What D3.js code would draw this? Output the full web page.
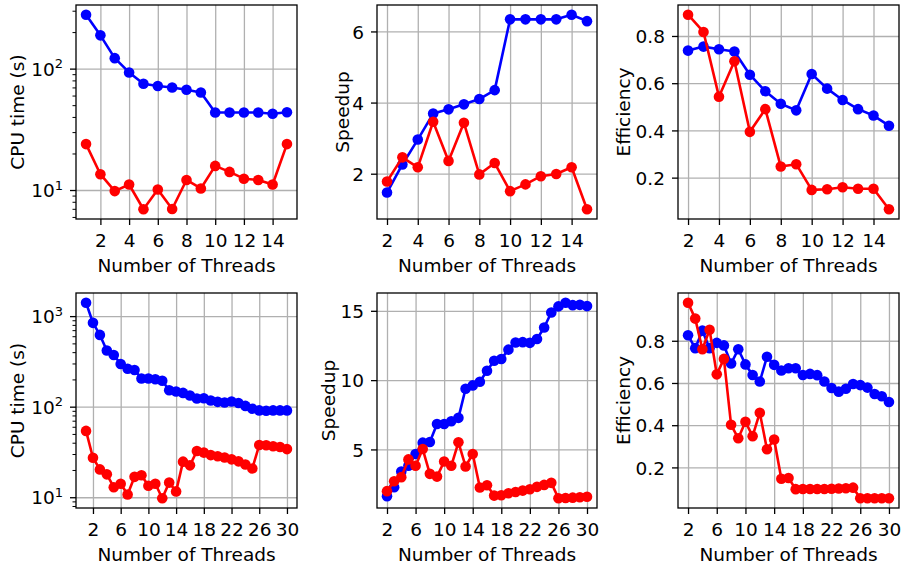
<!DOCTYPE html>
<html>
<head>
<meta charset="utf-8">
<script src="https://cdn.jsdelivr.net/npm/d3@7"></script>
<style>
  body { margin: 0; background: #fff; }
  svg text { font-family: "DejaVu Sans", sans-serif; fill: #000; }
</style>
</head>
<body>
<div id="chart"></div>
<script>
// Thread counts (x values)
var threadsA = [1, 2, 3, 4, 5, 6, 7, 8, 9, 10, 11, 12, 13, 14, 15];
var threadsA2 = [2, 3, 4, 5, 6, 7, 8, 9, 10, 11, 12, 13, 14, 15];
var threadsB = [1, 2, 3, 4, 5, 6, 7, 8, 9, 10, 11, 12, 13, 14, 15, 16, 17, 18, 19, 20,
  21, 22, 23, 24, 25, 26, 27, 28, 29, 30];
var threadsB2 = [2, 3, 4, 5, 6, 7, 8, 9, 10, 11, 12, 13, 14, 15, 16, 17, 18, 19, 20,
  21, 22, 23, 24, 25, 26, 27, 28, 29, 30];

// Top row: CPU time (s)
var cpuA_blue = [278, 188, 122, 93, 75, 72, 70, 67, 63.5, 43.5, 43.5, 43.5, 43.5, 42.5, 43.7];
var cpuA_red = [23.9, 13.5, 9.8, 11.1, 6.94, 10.1, 6.98, 12.1, 10.3, 15.8, 14.1, 12.4, 12.1, 11.1, 23.9];
// Top row: speedup
var speedA_blue = [1.47, 2.26, 2.96, 3.69, 3.81, 3.95, 4.10, 4.35, 6.34, 6.34, 6.34, 6.34, 6.47, 6.29];
var speedA_red = [1.78, 2.46, 2.18, 3.46, 2.36, 3.43, 1.98, 2.30, 1.51, 1.70, 1.93, 1.99, 2.18, 1.00];
// Top row: efficiency
var effA_blue = [0.738, 0.755, 0.744, 0.734, 0.636, 0.566, 0.513, 0.485, 0.639, 0.577, 0.529, 0.490, 0.463, 0.420];
var effA_red = [0.890, 0.817, 0.543, 0.693, 0.394, 0.490, 0.247, 0.257, 0.148, 0.151, 0.159, 0.153, 0.153, 0.066];

// Bottom row: CPU time (s)
var cpuB_blue = [1404, 843, 620, 417, 372, 296, 262, 254, 205, 205, 201, 193, 152, 147, 142,
  133, 123, 124, 117, 113, 111, 114, 110, 102, 95, 91, 90, 91, 91, 91];
var cpuB_red = [54, 27.3, 20.3, 17.9, 12.9, 14.1, 10.7, 16.8, 17.5, 13.4, 14.1, 9.75, 14.5, 11.6, 24.7,
  22.5, 32.4, 31.1, 29.2, 28.3, 27.5, 26.2, 24.9, 23.0, 20.8, 37.7, 37.5, 36.5, 35.8, 34.0];
// Bottom row: speedup
var speedB_blue = [1.62, 2.28, 3.41, 3.82, 4.67, 5.49, 5.54, 6.84, 6.84, 7.03, 7.28, 9.38, 9.62, 9.88,
  10.68, 11.40, 11.52, 12.20, 12.71, 12.74, 12.69, 12.97, 13.80, 14.88, 15.32, 15.58, 15.41, 15.43, 15.34];
var speedB_red = [1.99, 2.71, 3.00, 4.28, 3.82, 5.03, 3.24, 3.04, 4.13, 3.82, 5.51, 3.77, 4.67, 2.25,
  2.42, 1.67, 1.70, 1.84, 1.93, 2.03, 2.13, 2.30, 2.44, 2.59, 1.48, 1.50, 1.52, 1.55, 1.59];
// Bottom row: efficiency
var effB_blue = [0.826, 0.765, 0.848, 0.765, 0.790, 0.778, 0.692, 0.760, 0.688, 0.638, 0.607, 0.724, 0.686, 0.659,
  0.670, 0.670, 0.638, 0.643, 0.637, 0.607, 0.576, 0.559, 0.573, 0.595, 0.590, 0.578, 0.548, 0.537, 0.510];
var effB_red = [0.980, 0.905, 0.760, 0.852, 0.641, 0.714, 0.402, 0.338, 0.416, 0.348, 0.459, 0.286, 0.332, 0.146,
  0.150, 0.097, 0.098, 0.098, 0.098, 0.098, 0.099, 0.100, 0.101, 0.104, 0.054, 0.054, 0.054, 0.054, 0.054];

// Tick values
var xTicksA = [2, 4, 6, 8, 10, 12, 14];
var xTicksB = [2, 6, 10, 14, 18, 22, 26, 30];
var yTicksCpuA = [10, 100];
var yTicksCpuB = [10, 100, 1000];
var yTicksSpeedA = [2, 4, 6];
var yTicksSpeedB = [5, 10, 15];
var yTicksEff = [0.2, 0.4, 0.6, 0.8];

var width = 903;
var height = 566;
var fontSize = 18.5;

var svg = d3
  .select("#chart")
  .append("svg")
  .attr("width", width)
  .attr("height", height);

// panel layout
var panels = [
  { left: 76, top: 5, w: 221, h: 214, xs: threadsA, blue: cpuA_blue, red: cpuA_red, log: true,
    xTicks: xTicksA, yTicks: yTicksCpuA, label: "CPU time (s)", labelX: 24 },
  { left: 377, top: 5, w: 220, h: 214, xs: threadsA2, blue: speedA_blue, red: speedA_red, log: false,
    xTicks: xTicksA, yTicks: yTicksSpeedA, fmt: d3.format("d"), label: "Speedup", labelX: 349 },
  { left: 678, top: 5, w: 221, h: 214, xs: threadsA2, blue: effA_blue, red: effA_red, log: false,
    xTicks: xTicksA, yTicks: yTicksEff, fmt: d3.format(".1f"), label: "Efficiency", labelX: 630 },
  { left: 76, top: 293, w: 221, h: 215, xs: threadsB, blue: cpuB_blue, red: cpuB_red, log: true,
    xTicks: xTicksB, yTicks: yTicksCpuB, label: "CPU time (s)", labelX: 24 },
  { left: 377, top: 293, w: 220, h: 215, xs: threadsB2, blue: speedB_blue, red: speedB_red, log: false,
    xTicks: xTicksB, yTicks: yTicksSpeedB, fmt: d3.format("d"), label: "Speedup", labelX: 335 },
  { left: 678, top: 293, w: 221, h: 215, xs: threadsB2, blue: effB_blue, red: effB_red, log: false,
    xTicks: xTicksB, yTicks: yTicksEff, fmt: d3.format(".1f"), label: "Efficiency", labelX: 630 }
];

panels.forEach(drawPanel);

function drawPanel(p) {
  var g = svg.append("g").attr("transform", "translate(" + p.left + "," + p.top + ")");

  // x domain with 5% margins like matplotlib
  var xMin = d3.min(p.xs), xMax = d3.max(p.xs);
  var xPad = (xMax - xMin) * 0.05;
  var xScale = d3.scaleLinear().domain([xMin - xPad, xMax + xPad]).range([0, p.w]);

  var all = p.blue.concat(p.red);
  var yScale;
  if (p.log) {
    var lo = Math.log10(d3.min(all)), hi = Math.log10(d3.max(all));
    var lp = (hi - lo) * 0.05;
    yScale = d3.scaleLog().domain([Math.pow(10, lo - lp), Math.pow(10, hi + lp)]).range([p.h, 0]);
  } else {
    var yMin = d3.min(all), yMax = d3.max(all);
    var yPad = (yMax - yMin) * 0.05;
    yScale = d3.scaleLinear().domain([yMin - yPad, yMax + yPad]).range([p.h, 0]);
  }

  // grid
  g.append("g")
    .attr("class", "grid")
    .attr("transform", "translate(0," + p.h + ")")
    .call(d3.axisBottom(xScale).tickValues(p.xTicks).tickSize(-p.h).tickFormat(""));
  g.append("g")
    .attr("class", "grid")
    .call(d3.axisLeft(yScale).tickValues(p.yTicks).tickSize(-p.w).tickFormat(""));
  g.selectAll(".grid .domain").remove();
  g.selectAll(".grid line").attr("stroke", "#b0b0b0").attr("stroke-width", 1.3);

  // x axis
  var xAxisG = g.append("g")
    .attr("transform", "translate(0," + p.h + ")")
    .call(d3.axisBottom(xScale).tickValues(p.xTicks).tickSize(6).tickPadding(9).tickSizeOuter(0));
  xAxisG.select(".domain").remove();
  xAxisG.selectAll("line").attr("stroke", "#000").attr("stroke-width", 1.3);
  xAxisG.selectAll("text")
    .attr("font-size", fontSize)
    .attr("font-family", "DejaVu Sans");

  // y axis
  var yAxis = d3.axisLeft(yScale).tickValues(p.yTicks).tickSize(6).tickPadding(7).tickSizeOuter(0);
  if (p.log) {
    yAxis.tickFormat("");
  } else {
    yAxis.tickFormat(p.fmt);
  }
  var yAxisG = g.append("g").call(yAxis);
  yAxisG.select(".domain").remove();
  yAxisG.selectAll("line").attr("stroke", "#000").attr("stroke-width", 1.3);
  yAxisG.selectAll("text")
    .attr("font-size", fontSize)
    .attr("font-family", "DejaVu Sans")
    .attr("dy", "0.36em");

  if (p.log) {
    // 10^n labels with superscript
    yAxisG.selectAll("text").each(function(d) {
      var t = d3.select(this);
      t.append("tspan").text("10");
      t.append("tspan")
        .attr("font-size", 13)
        .attr("dy", -7.5)
        .text(Math.round(Math.log10(d)));
    });
    // minor ticks
    var dom = yScale.domain();
    var minors = [];
    for (var e = Math.floor(Math.log10(dom[0])); e <= Math.ceil(Math.log10(dom[1])); e++) {
      for (var m = 2; m <= 9; m++) {
        var v = m * Math.pow(10, e);
        if (v >= dom[0] && v <= dom[1]) minors.push(v);
      }
    }
    var minorG = g.append("g")
      .call(d3.axisLeft(yScale).tickValues(minors).tickSize(3.5).tickFormat("").tickSizeOuter(0));
    minorG.select(".domain").remove();
    minorG.selectAll("line").attr("stroke", "#000").attr("stroke-width", 1);
  }

  // series: blue first, red on top
  var series = [
    { vals: p.blue, color: "#0000ff" },
    { vals: p.red, color: "#ff0000" }
  ];
  series.forEach(function(s) {
    var pts = p.xs.map(function(x, i) { return [x, s.vals[i]]; });
    var line = d3.line()
      .x(function(d) { return xScale(d[0]); })
      .y(function(d) { return yScale(d[1]); });
    g.append("path")
      .datum(pts)
      .attr("d", line)
      .attr("fill", "none")
      .attr("stroke", s.color)
      .attr("stroke-width", 2.6)
      .attr("stroke-linejoin", "round");
    g.selectAll(null)
      .data(pts)
      .enter()
      .append("circle")
      .attr("cx", function(d) { return xScale(d[0]); })
      .attr("cy", function(d) { return yScale(d[1]); })
      .attr("r", 5.3)
      .attr("fill", s.color);
  });

  // frame
  g.append("rect")
    .attr("width", p.w)
    .attr("height", p.h)
    .attr("fill", "none")
    .attr("stroke", "#000")
    .attr("stroke-width", 1.3);

  // x label
  g.append("text")
    .attr("x", p.w / 2)
    .attr("y", p.h + 53)
    .attr("text-anchor", "middle")
    .attr("font-size", fontSize)
    .text("Number of Threads");

  // y label
  svg.append("text")
    .attr("transform", "translate(" + p.labelX + "," + (p.top + p.h / 2) + ")rotate(-90)")
    .attr("text-anchor", "middle")
    .attr("font-size", fontSize)
    .text(p.label);
}
</script>
</body>
</html>
